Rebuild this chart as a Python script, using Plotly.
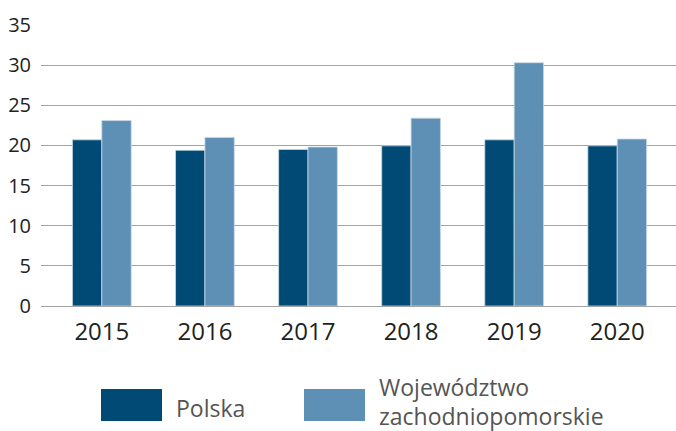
import plotly.graph_objects as go

years = ["2015", "2016", "2017", "2018", "2019", "2020"]
polska = [20.7, 19.4, 19.5, 19.95, 20.7, 19.95]
zachodniopomorskie = [23.1, 21.0, 19.8, 23.4, 30.3, 20.8]
legend_line1 = ["Polska", "Województwo"]
legend_line2 = ["", "zachodniopomorskie"]
y_ticks = [0, 5, 10, 15, 20, 25, 30, 35]

c_dark = "#004a75"
c_light = "#5e8fb5"
font_family = "Open Sans, Noto Sans, DejaVu Sans, sans-serif"

W, H = 676, 431
L, T, B = 41, 25, 125
PW, PH = W - L, H - T - B

fig = go.Figure()
fig.add_trace(go.Bar(x=years, y=polska, name="Polska",
                     marker=dict(color=c_dark, line=dict(color="#c9d9e6", width=0.8))))
fig.add_trace(go.Bar(x=years, y=zachodniopomorskie, name="Województwo zachodniopomorskie",
                     marker=dict(color=c_light, line=dict(color="#c9d9e6", width=0.8))))

fig.update_layout(
    width=W, height=H,
    margin=dict(l=L, r=0, t=T, b=B, autoexpand=False),
    paper_bgcolor="white", plot_bgcolor="white",
    barmode="group", bargap=0.43, bargroupgap=0,
    showlegend=False,
    font=dict(family=font_family, color="#222222"),
)
fig.update_xaxes(
    type="category", range=[-0.59, 5.57],
    showgrid=False, showline=False, ticks="",
    tickfont=dict(size=24, color="#222222"),
    ticklabelstandoff=9,
)
fig.update_yaxes(
    range=[0, 35], tickvals=y_ticks,
    showgrid=True, gridcolor="#a3a3a3", gridwidth=1.4,
    zeroline=True, zerolinecolor="#a3a3a3", zerolinewidth=1.4,
    showline=False, ticks="",
    tickfont=dict(size=20, color="#222222"),
    ticklabelstandoff=9,
)


def px_x(x):
    return (x - L) / PW


def px_y(y):
    return (T + PH - y) / PH


# Legend drawn manually (large swatches)
legend_items = [(c_dark, 0, 101, 162), (c_light, 1, 304, 365)]
for color, i, x0, x1 in legend_items:
    fig.add_shape(type="rect", xref="paper", yref="paper",
                  x0=px_x(x0), x1=px_x(x1), y0=px_y(421), y1=px_y(389),
                  fillcolor=color, line=dict(width=0))
    if legend_line2[i]:
        lines = [(legend_line1[i], 387), (legend_line2[i], 416)]
    else:
        lines = [(legend_line1[i], 408)]
    for text, yc in lines:
        fig.add_annotation(xref="paper", yref="paper",
                           x=px_x(x1 + 12), y=px_y(yc),
                           text=text, showarrow=False, xanchor="left", yanchor="middle",
                           font=dict(size=23, color="#555555", family=font_family))

fig.write_html("out.html", config={"displayModeBar": False},
               post_script="document.body.style.margin='0';")
